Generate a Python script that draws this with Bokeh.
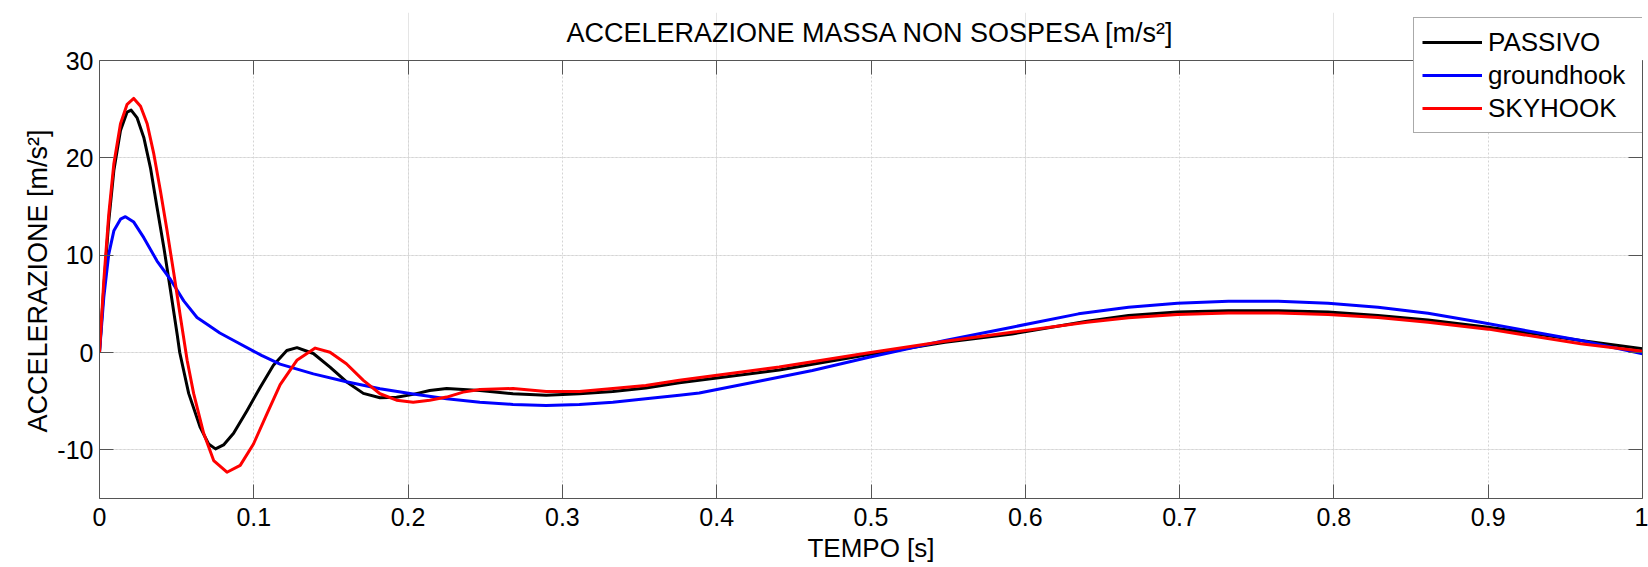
from bokeh.plotting import figure
from bokeh.models import (Range1d, LinearAxis, FixedTicker, Legend, LegendItem,
                          Label, Grid, NumeralTickFormatter, Title)
from bokeh.embed import file_html
from bokeh.resources import INLINE

# ---------------- data ----------------
t_passivo = [0, 0.0028, 0.006, 0.0093, 0.0136, 0.0179, 0.0205, 0.0244, 0.0287, 0.033,
             0.0373, 0.0417, 0.046, 0.0503, 0.052, 0.0578, 0.0653, 0.0707, 0.0752, 0.0804,
             0.0869, 0.0955, 0.1041, 0.1127, 0.1214, 0.128, 0.1386, 0.1494, 0.160, 0.171,
             0.1818, 0.1925, 0.2033, 0.214, 0.225, 0.2465, 0.268, 0.2895, 0.311, 0.3327,
             0.354, 0.3758, 0.4405, 0.4987, 0.548, 0.5914, 0.64, 0.6669, 0.6986, 0.7316,
             0.764, 0.7962, 0.8286, 0.861, 0.9, 0.96, 1.0]
a_passivo = [0, 6.7, 13.5, 18.7, 22.8, 24.7, 24.9, 24.1, 22.1, 19.0,
             14.9, 10.8, 6.4, 1.9, 0.0, -4.2, -7.7, -9.4, -9.9, -9.5,
             -8.3, -6.0, -3.6, -1.3, 0.2, 0.5, -0.1, -1.5, -3.0, -4.2,
             -4.65, -4.6, -4.3, -3.9, -3.7, -3.9, -4.25, -4.4, -4.25, -4.0,
             -3.65, -3.1, -1.8, -0.2, 1.05, 1.9, 3.2, 3.8, 4.15, 4.3,
             4.3, 4.15, 3.8, 3.35, 2.6, 1.23, 0.38]

t_ground = [0, 0.0028, 0.006, 0.0093, 0.0136, 0.0168, 0.0222, 0.0287, 0.0373, 0.046,
            0.0546, 0.0632, 0.0697, 0.078, 0.087, 0.105, 0.117, 0.1386, 0.160, 0.1818,
            0.2033, 0.225, 0.2465, 0.268, 0.2895, 0.311, 0.3327, 0.354, 0.3758, 0.3887,
            0.4297, 0.462, 0.4987, 0.548, 0.5914, 0.6345, 0.6669, 0.6986, 0.7316, 0.764,
            0.7962, 0.8286, 0.861, 0.895, 0.96, 1.0]
a_ground = [0, 5.7, 10.1, 12.5, 13.7, 13.95, 13.4, 11.8, 9.4, 7.5,
            5.3, 3.6, 2.9, 2.0, 1.23, -0.3, -1.2, -2.2, -3.0, -3.73,
            -4.27, -4.75, -5.1, -5.33, -5.44, -5.33, -5.1, -4.75, -4.4, -4.17,
            -2.87, -1.85, -0.48, 1.23, 2.6, 3.97, 4.65, 5.06, 5.27, 5.27,
            5.06, 4.65, 4.03, 3.1, 1.23, -0.13]

t_sky = [0, 0.0028, 0.006, 0.0093, 0.0136, 0.0179, 0.0222, 0.0266, 0.0309, 0.0352,
         0.0395, 0.0438, 0.0482, 0.0525, 0.0568, 0.061, 0.0675, 0.074, 0.0826, 0.0912,
         0.0998, 0.1085, 0.1171, 0.1279, 0.1398, 0.1494, 0.160, 0.171, 0.1818, 0.1925,
         0.2033, 0.214, 0.225, 0.2357, 0.2465, 0.268, 0.2895, 0.311, 0.3327, 0.354,
         0.3758, 0.4405, 0.4987, 0.548, 0.5914, 0.64, 0.6669, 0.6986, 0.7316, 0.764,
         0.7962, 0.8286, 0.861, 0.9, 0.96, 1.0]
a_sky = [0, 7.4, 14.2, 19.4, 23.5, 25.5, 26.1, 25.3, 23.5, 20.4,
         16.6, 12.5, 8.1, 3.6, -0.8, -4.2, -8.3, -11.1, -12.3, -11.6,
         -9.4, -6.3, -3.3, -0.8, 0.45, 0.03, -1.16, -2.87, -4.24, -4.9,
         -5.1, -4.9, -4.58, -4.07, -3.8, -3.7, -4.0, -4.0, -3.7, -3.4,
         -2.85, -1.5, -0.03, 1.16, 2.08, 3.1, 3.56, 3.9, 4.07, 4.07,
         3.9, 3.6, 3.1, 2.4, 0.89, 0.13]

series_names = ["PASSIVO", "groundhook", "SKYHOOK"]
series_colors = ["#000000", "#0000ff", "#ff0000"]

x_ticks = [0, 0.1, 0.2, 0.3, 0.4, 0.5, 0.6, 0.7, 0.8, 0.9, 1]
x_tick_labels = ["0", "0.1", "0.2", "0.3", "0.4", "0.5", "0.6", "0.7", "0.8", "0.9", "1"]
y_ticks = [-10, 0, 10, 20, 30]
y_tick_labels = ["-10", "0", "10", "20", "30"]
x_lim = (0, 1)
y_lim = (-15, 30)

title_text = "ACCELERAZIONE MASSA NON SOSPESA [m/s²]"
x_label = "TEMPO [s]"
y_label = "ACCELERAZIONE [m/s²]"

# ---------------- layout / style ----------------
FONT = "Liberation Sans"
AX = "#555555"
AXES_H = 438          # pixel height of the axes box (-15 .. 30)
EXTRA_TOP = 48        # frame extends above the box so the legend/title are not clipped
FW = 1543
FH = AXES_H + EXTRA_TOP
y_top = y_lim[1] + EXTRA_TOP * (y_lim[1] - y_lim[0]) / AXES_H

p = figure(frame_width=FW, frame_height=FH,
           x_range=Range1d(*x_lim), y_range=Range1d(y_lim[0], y_top),
           x_axis_location=None, y_axis_location=None,
           output_backend="svg", toolbar_location=None,
           min_border_left=99, min_border_top=12, min_border_bottom=69, min_border_right=6)
p.outline_line_color = None
p.background_fill_color = "white"
p.border_fill_color = "white"

xt = FixedTicker(ticks=x_ticks)
yt = FixedTicker(ticks=y_ticks)

gx = Grid(dimension=0, ticker=xt, grid_line_color="#d4d4d4", grid_line_dash="2 2", grid_line_width=1)
gy = Grid(dimension=1, ticker=yt, grid_line_color="#d4d4d4", grid_line_dash="2 2", grid_line_width=1)
try:
    gx.cross_bounds = y_lim
    p.add_layout(gx)
except Exception:
    p.segment(x0=x_ticks[1:-1], y0=[y_lim[0]] * (len(x_ticks) - 2),
              x1=x_ticks[1:-1], y1=[y_lim[1]] * (len(x_ticks) - 2),
              line_color="#d4d4d4", line_dash="2 2", line_width=1)
p.add_layout(gy)


def make_axis(ticker, labels_map, show_labels, **kw):
    ax = LinearAxis(ticker=ticker, **kw)
    ax.axis_line_color = AX
    ax.axis_line_width = 1
    ax.major_tick_line_color = AX
    ax.major_tick_in = 14
    ax.major_tick_out = 0
    ax.minor_tick_line_color = None
    if show_labels:
        ax.major_label_overrides = labels_map
        ax.major_label_text_font = FONT
        ax.major_label_text_font_size = "25px"
        ax.major_label_text_color = "black"
    else:
        ax.major_label_text_font_size = "0px"
        ax.major_label_standoff = 0
        ax.major_label_text_color = None
    return ax


xmap = dict(zip(x_ticks, x_tick_labels))
ymap = dict(zip(y_ticks, y_tick_labels))

bottom = make_axis(xt, xmap, True)
bottom.formatter = NumeralTickFormatter(format="0.[0]")
bottom.major_label_standoff = 9
bottom.axis_label = x_label
bottom.axis_label_text_font = FONT
bottom.axis_label_text_font_size = "26px"
bottom.axis_label_text_font_style = "normal"
bottom.axis_label_text_color = "black"
bottom.axis_label_standoff = 4

left = make_axis(yt, ymap, True, bounds=y_lim)
left.formatter = NumeralTickFormatter(format="0")
left.major_label_standoff = 6
top = make_axis(xt, xmap, False, fixed_location=y_lim[1])
right = make_axis(yt, ymap, False, bounds=y_lim)

p.add_layout(bottom, "below")
p.add_layout(left, "left")
p.add_layout(top, "above")
p.add_layout(right, "right")

ytitle = Title(text=y_label, align="left", offset=66, text_font=FONT, text_font_size="27px",
               text_font_style="normal", text_color="black", standoff=4)
p.add_layout(ytitle, "left")

renderers = []
for tt, aa, col in ((t_passivo, a_passivo, series_colors[0]),
                    (t_ground, a_ground, series_colors[1]),
                    (t_sky, a_sky, series_colors[2])):
    r = p.line(tt, aa, line_color=col, line_width=3, line_join="round")
    renderers.append(r)

legend = Legend(items=[LegendItem(label=n, renderers=[r]) for n, r in zip(series_names, renderers)],
                location=(1314, 365))
legend.label_text_font = FONT
legend.label_text_font_size = "26px"
legend.label_text_color = "black"
legend.glyph_width = 60
legend.glyph_height = 32
legend.label_height = 32
legend.label_width = 147
legend.label_standoff = 6
legend.spacing = 1
legend.padding = 8
legend.margin = 0
legend.border_line_color = AX
legend.border_line_width = 1
legend.background_fill_color = "white"
legend.background_fill_alpha = 1.0
p.add_layout(legend)

title = Label(x=sum(x_lim) / 2, y=AXES_H + 28, x_units="data", y_units="screen", text=title_text,
              text_align="center", text_baseline="middle", text_font=FONT,
              text_font_size="27px", text_color="black")
p.add_layout(title)

open("out.html", "w").write(file_html(p, INLINE))
